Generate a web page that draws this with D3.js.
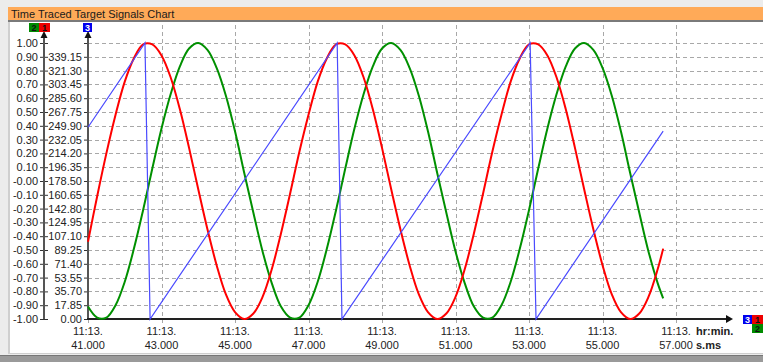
<!DOCTYPE html>
<html>
<head>
<meta charset="utf-8">
<script src="https://cdn.jsdelivr.net/npm/d3@7/dist/d3.min.js"></script>
<style>
  body { margin: 0; background: #f0f0f0; }
  svg { display: block; font-family: "Liberation Sans", Arial, sans-serif; }
  .grid line { stroke: #a8a8a8; stroke-dasharray: 4,3; shape-rendering: crispEdges; }
  .grid path { display: none; }
  .lbl { font-size: 11px; fill: #222; }
</style>
</head>
<body>
<svg id="root" width="763" height="362"></svg>
<script>
// sample times (seconds past 11:13)
const times = [41.00, 41.25, 41.50, 41.75, 42.00, 42.25, 42.50, 42.75, 43.00, 43.25, 43.50,
  43.75, 44.00, 44.25, 44.50, 44.75, 45.00, 45.25, 45.50, 45.75, 46.00,
  46.25, 46.50, 46.75, 47.00, 47.25, 47.50, 47.75, 48.00, 48.25, 48.50, 48.75,
  49.00, 49.25, 49.50, 49.75, 50.00, 50.25, 50.50, 50.75, 51.00, 51.25,
  51.50, 51.75, 52.00, 52.25, 52.50, 52.75, 53.00, 53.25, 53.50, 53.75, 54.00,
  54.25, 54.50, 54.75, 55.00, 55.25, 55.50, 55.75, 56.00, 56.25, 56.50, 56.65];

// signal 1 (red)
const signal1 = [-0.44, -0.11, 0.20, 0.48, 0.72, 0.89, 0.99, 0.99, 0.91, 0.75, 0.52,
  0.24, -0.06, -0.35, -0.61, -0.82, -0.95, -1.00, -0.96, -0.84, -0.64,
  -0.38, -0.09, 0.21, 0.48, 0.72, 0.89, 0.99, 0.99, 0.91, 0.75, 0.52,
  0.24, -0.06, -0.35, -0.61, -0.82, -0.95, -1.00, -0.96, -0.84, -0.64,
  -0.38, -0.09, 0.21, 0.48, 0.72, 0.89, 0.99, 0.99, 0.91, 0.75, 0.52,
  0.24, -0.06, -0.35, -0.61, -0.82, -0.95, -1.00, -0.96, -0.84, -0.64, -0.49];

// signal 2 (green)
const signal2 = [-0.91, -0.99, -0.99, -0.90, -0.73, -0.49, -0.21, 0.09, 0.38, 0.63, 0.83,
  0.96, 1.00, 0.95, 0.82, 0.62, 0.36, 0.06, -0.23, -0.51, -0.74,
  -0.91, -0.99, -0.99, -0.90, -0.73, -0.49, -0.21, 0.09, 0.38, 0.63, 0.83,
  0.96, 1.00, 0.95, 0.82, 0.62, 0.36, 0.06, -0.23, -0.51, -0.74,
  -0.91, -0.99, -0.99, -0.90, -0.73, -0.49, -0.21, 0.09, 0.38, 0.63, 0.83,
  0.96, 1.00, 0.95, 0.82, 0.62, 0.36, 0.06, -0.23, -0.51, -0.74, -0.85];

// signal 3 (blue, own axis 0..357)
const signal3Times = [41.00, 42.55, 42.69, 47.78, 47.91, 53.03, 53.19, 56.65];
const signal3 = [248, 357, 0, 357, 0, 357, 0, 243];

const xTicks = [41, 43, 45, 47, 49, 51, 53, 55, 57];
const xTickLabels = ['41.000', '43.000', '45.000', '47.000', '49.000', '51.000', '53.000', '55.000', '57.000'];

const leftTicks = [1.0, 0.9, 0.8, 0.7, 0.6, 0.5, 0.4, 0.3, 0.2, 0.1, 0, -0.1, -0.2, -0.3, -0.4, -0.5, -0.6, -0.7, -0.8, -0.9, -1.0];
const leftTickLabels = ['1.00', '0.90', '0.80', '0.70', '0.60', '0.50', '0.40', '0.30', '0.20', '0.10', '-0.00',
  '-0.10', '-0.20', '-0.30', '-0.40', '-0.50', '-0.60', '-0.70', '-0.80', '-0.90', '-1.00'];

const rightTicks = [357, 339.15, 321.30, 303.45, 285.60, 267.75, 249.90, 232.05, 214.20, 196.35, 178.50,
  160.65, 142.80, 124.95, 107.10, 89.25, 71.40, 53.55, 35.70, 17.85, 0];
const rightTickLabels = ['', '339.15', '321.30', '303.45', '285.60', '267.75', '249.90', '232.05', '214.20', '196.35', '178.50',
  '160.65', '142.80', '124.95', '107.10', '89.25', '71.40', '53.55', '35.70', '17.85', '0.00'];

const W = 763, H = 362;
const plot = { left: 88, right: 733, top: 43, bottom: 319 };

const x = d3.scaleLinear().domain([41, 58.55]).range([plot.left, plot.right]);
const y = d3.scaleLinear().domain([-1, 1]).range([plot.bottom, plot.top]);
const y3 = d3.scaleLinear().domain([0, 357]).range([plot.bottom, plot.top]);

const svg = d3.select('#root');

// window frame
svg.append('rect').attr('x', 0).attr('y', 0).attr('width', W).attr('height', H).attr('fill', '#ececec');
svg.append('rect').attr('x', 8).attr('y', 7).attr('width', W - 8).attr('height', 14).attr('fill', '#ffaa58');
svg.append('rect').attr('x', 8).attr('y', 20).attr('width', W - 8).attr('height', 2).attr('fill', '#7a7a7a');
svg.append('rect').attr('x', 8).attr('y', 22).attr('width', W - 8).attr('height', 332).attr('fill', '#cfcfcf');
svg.append('rect').attr('x', 10).attr('y', 22).attr('width', W - 10).attr('height', 331).attr('fill', '#fff');
svg.append('rect').attr('x', 0).attr('y', 356).attr('width', W).attr('height', 6).attr('fill', '#9a9a9a');
svg.append('rect').attr('x', 0).attr('y', 355).attr('width', W).attr('height', 1).attr('fill', '#777');

svg.append('text')
  .attr('x', 11).attr('y', 17.5)
  .attr('font-size', 11).attr('fill', '#1a1a1a')
  .text('Time Traced Target Signals Chart');

// grid
svg.append('g')
  .attr('class', 'grid')
  .attr('transform', `translate(${plot.left}, 0)`)
  .call(d3.axisRight(y).tickValues(leftTicks.slice(0, -1)).tickSize(W - plot.left).tickFormat(''));

svg.append('g')
  .attr('class', 'grid')
  .attr('transform', `translate(0, ${plot.bottom + 4})`)
  .call(d3.axisTop(x).tickValues(xTicks).tickSize(plot.bottom + 4 - 23).tickFormat(''));

// axis 1 (signals 1, 2)
const axis1 = svg.append('g').attr('transform', 'translate(44, 0)');
axis1.call(d3.axisLeft(y).tickValues(leftTicks).tickSize(4).tickPadding(2)
  .tickFormat((d, i) => leftTickLabels[i]));
axis1.append('g').call(d3.axisRight(y).tickValues(leftTicks).tickSize(4).tickFormat(''));
axis1.selectAll('path').remove();
axis1.selectAll('line').attr('stroke', '#333');
axis1.selectAll('text').attr('class', 'lbl').attr('font-size', null).attr('font-family', null);

// axis 3 (signal 3)
const axis3 = svg.append('g').attr('transform', `translate(${plot.left}, 0)`);
axis3.call(d3.axisLeft(y3).tickValues(rightTicks).tickSize(4).tickPadding(2)
  .tickFormat((d, i) => rightTickLabels[i]));
axis3.selectAll('path').remove();
axis3.selectAll('line').attr('stroke', '#333');
axis3.selectAll('text').attr('class', 'lbl').attr('font-size', null).attr('font-family', null);

// vertical axis lines with arrows
[44, plot.left].forEach(ax => {
  svg.append('line').attr('x1', ax).attr('x2', ax).attr('y1', 36).attr('y2', plot.bottom)
    .attr('stroke', '#555').attr('stroke-width', 2);
  svg.append('path').attr('d', `M${ax},31L${ax - 3.5},38L${ax + 3.5},38Z`).attr('fill', '#111');
});

// x axis
svg.append('line').attr('x1', plot.left - 1).attr('x2', plot.right - 5).attr('y1', plot.bottom).attr('y2', plot.bottom)
  .attr('stroke', '#222').attr('stroke-width', 2);
svg.append('path').attr('d', `M${plot.right},${plot.bottom}L${plot.right - 7},${plot.bottom - 4}L${plot.right - 7},${plot.bottom + 4}Z`)
  .attr('fill', '#111');

const xl = svg.append('g');
xTicks.forEach((t, i) => {
  xl.append('text').attr('class', 'lbl').attr('x', x(t)).attr('y', 335).attr('text-anchor', 'middle').text('11:13.');
  xl.append('text').attr('class', 'lbl').attr('x', x(t)).attr('y', 349).attr('text-anchor', 'middle').text(xTickLabels[i]);
});
xl.append('text').attr('class', 'lbl').attr('x', 696).attr('y', 335).attr('font-weight', 'bold').text('hr:min.');
xl.append('text').attr('class', 'lbl').attr('x', 696).attr('y', 349).attr('font-weight', 'bold').text('s.ms');

// series
const smooth = d3.line().x(d => x(d[0])).y(d => d[1]).curve(d3.curveCatmullRom);
const straight = d3.line().x(d => x(d[0])).y(d => d[1]);

svg.append('path')
  .datum(times.map((t, i) => [t, y(signal2[i])]))
  .attr('d', smooth).attr('fill', 'none').attr('stroke', '#009000').attr('stroke-width', 2);

svg.append('path')
  .datum(times.map((t, i) => [t, y(signal1[i])]))
  .attr('d', smooth).attr('fill', 'none').attr('stroke', '#ff0000').attr('stroke-width', 2);

svg.append('path')
  .datum(signal3Times.map((t, i) => [t, y3(signal3[i])]))
  .attr('d', straight).attr('fill', 'none').attr('stroke', '#4a4aff').attr('stroke-width', 1.2);

// channel badges
function badge(bx, by, w, fill, txtFill, label) {
  svg.append('rect').attr('x', bx).attr('y', by).attr('width', w).attr('height', 9).attr('fill', fill);
  svg.append('text').attr('x', bx + w / 2).attr('y', by + 8).attr('text-anchor', 'middle')
    .attr('font-size', 9).attr('font-weight', 'bold').attr('fill', txtFill).text(label);
}
badge(29, 23, 10, '#008c00', '#111', '2');
badge(39, 23, 11, '#ee0000', '#111', '1');
badge(83, 23, 9, '#0000ee', '#fff', '3');
badge(743, 315, 9, '#0000ee', '#fff', '3');
badge(752, 315, 11, '#ee0000', '#111', '1');
badge(752, 324, 11, '#008c00', '#111', '2');
</script>
</body>
</html>
